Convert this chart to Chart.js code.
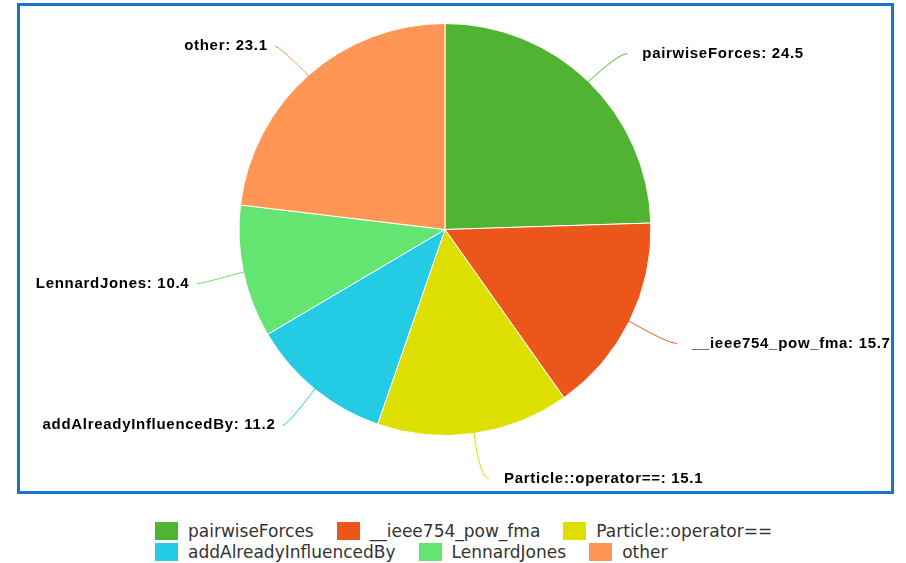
<!DOCTYPE html>
<html>
<head>
<meta charset="utf-8">
<script src="https://cdn.jsdelivr.net/npm/chart.js@4"></script>
<style>
    body { margin: 0; background: #fff; width: 906px; height: 563px; position: relative; overflow: hidden; }
    #marco {
        position: absolute; left: 17px; top: 3px;
        width: 871px; height: 485px;
        border: 3px solid #1a74cc;
    }
    #leyenda {
        position: absolute; left: 155px; top: 522px; width: 660px;
        display: flex; flex-wrap: wrap; column-gap: 23px; row-gap: 3px;
        font: 17px "DejaVu Sans", sans-serif; color: #333;
    }
    .item { display: flex; align-items: center; height: 18px; white-space: nowrap; }
    .caja { width: 23px; height: 18px; margin-right: 10px; }
</style>
</head>
<body>
<div id="marco"><canvas id="grafico" width="871" height="485"></canvas></div>
<div id="leyenda"></div>
<script>
// Datos del gráfico
var categorias = ['pairwiseForces', '__ieee754_pow_fma', 'Particle::operator==', 'addAlreadyInfluencedBy', 'LennardJones', 'other'];
var valores = [24.5, 15.7, 15.1, 11.2, 10.4, 23.1];
var colores = ['#50B432', '#ED561B', '#DDDF00', '#24CBE5', '#64E572', '#FF9655'];

// Plugin para dibujar las etiquetas con sus líneas
var etiquetasPlugin = {
    id: 'etiquetas',
    afterDatasetsDraw: function(chart) {
        var ctx = chart.ctx;
        var meta = chart.getDatasetMeta(0);
        ctx.save();
        ctx.font = 'bold 15px "Liberation Sans", Arial, sans-serif';
        ctx.letterSpacing = '0.7px';
        ctx.textBaseline = 'middle';
        meta.data.forEach(function(arco, i) {
            var p = arco.getProps(['x', 'y', 'startAngle', 'endAngle', 'outerRadius'], true);
            var medio = (p.startAngle + p.endAngle) / 2;
            var cos = Math.cos(medio);
            var sin = Math.sin(medio);
            var lado = cos >= 0 ? 1 : -1;
            var rEtiqueta = p.outerRadius + 43;
            var px = p.x + rEtiqueta * cos;
            var py = p.y + rEtiqueta * sin + 3;
            var tx = px + lado * (lado > 0 ? 24 : 12);
            var fin = tx - lado * (lado > 0 ? 15 : 7);
            // Línea desde el borde del sector hasta la etiqueta
            var ex = p.x + (p.outerRadius - 2) * cos;
            var ey = p.y + (p.outerRadius - 2) * sin;
            ctx.beginPath();
            ctx.moveTo(ex, ey);
            ctx.quadraticCurveTo(px, py, fin, py);
            ctx.strokeStyle = colores[i];
            ctx.lineWidth = 1;
            ctx.stroke();
            // Texto
            ctx.fillStyle = '#000';
            ctx.textAlign = lado > 0 ? 'left' : 'right';
            ctx.fillText(categorias[i] + ': ' + valores[i], tx, py);
        });
        ctx.restore();
    }
};

var ctx = document.getElementById('grafico').getContext('2d');
var miGrafico = new Chart(ctx, {
    type: 'pie',
    data: {
        labels: categorias,
        datasets: [{
            data: valores,
            backgroundColor: colores,
            borderColor: '#ffffff',
            borderWidth: 1,
            hoverOffset: 0,
            offset: 0
        }]
    },
    options: {
        responsive: false,
        animation: false,
        events: [],
        layout: { padding: { top: 17, bottom: 55, left: 100, right: 121 } },
        plugins: {
            legend: { display: false },
            tooltip: { enabled: false }
        }
    },
    plugins: [etiquetasPlugin]
});

// Leyenda en HTML debajo del marco
var leyenda = document.getElementById('leyenda');
categorias.forEach(function(nombre, i) {
    var item = document.createElement('div');
    item.className = 'item';
    item.innerHTML = '<span class="caja" style="background:' + colores[i] + '"></span>' + nombre;
    leyenda.appendChild(item);
});
</script>
</body>
</html>
